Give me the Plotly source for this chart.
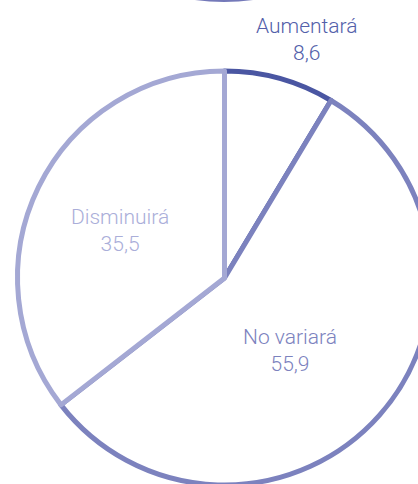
import plotly.graph_objects as go

# Expectativa: porcentaje de respuestas
categorias = ["Aumentará", "No variará", "Disminuirá"]
valores = [8.6, 55.9, 35.5]
colores_borde = ["#4A56A2", "#7C82BE", "#A4A8D4"]
colores_texto = ["#5360AA", "#7C82BE", "#AAAED9"]
# label centres, in pixels from the top-left corner
pos_etiquetas = [(307, 40), (290, 350), (120, 231)]

W, H = 440, 500          # canvas a bit larger than the visible window
CX, CY, R = 224.5, 278, 207


def px_x(x):
    return x / W


def px_y(y):
    return 1 - y / H


fig = go.Figure(
    go.Pie(
        labels=categorias,
        values=valores,
        sort=False,
        direction="clockwise",
        rotation=0,
        marker=dict(colors=["white"] * len(valores),
                    line=dict(color=colores_borde, width=5)),
        textinfo="none",
        hoverinfo="skip",
        domain=dict(x=[px_x(CX - R), px_x(CX + R)],
                    y=[px_y(CY + R), px_y(CY - R)]),
    )
)

for cat, val, col, (x, y) in zip(categorias, valores, colores_texto, pos_etiquetas):
    fig.add_annotation(
        x=px_x(x), y=px_y(y), xref="paper", yref="paper",
        text=f"{cat}<br>{val:.1f}".replace(".", ","),
        showarrow=False, xanchor="center", yanchor="middle",
        font=dict(family="Roboto", size=21, color=col, weight=300),
    )

# lower rim of the neighbouring pie above
fig.add_shape(
    type="circle", xref="paper", yref="paper",
    x0=px_x(224 - 207), x1=px_x(224 + 207),
    y0=px_y(-0.5), y1=px_y(-414.5),
    line=dict(color="#7479B9", width=5), fillcolor="rgba(0,0,0,0)",
)

fig.update_layout(
    width=W, height=H,
    margin=dict(l=0, r=0, t=0, b=0),
    paper_bgcolor="white", plot_bgcolor="white",
    showlegend=False,
    separators=",.",
)

fig.write_html(
    "out.html",
    post_script="document.documentElement.style.overflow='hidden';"
                "document.body.style.overflow='hidden';",
)
